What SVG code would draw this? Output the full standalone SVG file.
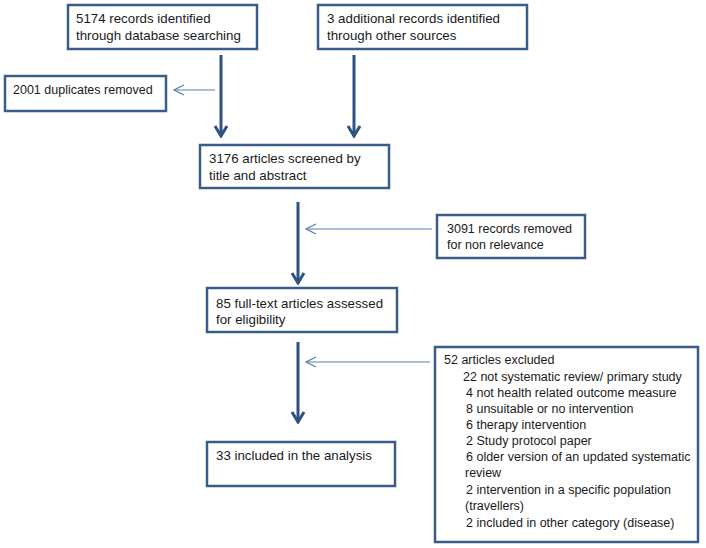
<svg xmlns="http://www.w3.org/2000/svg" width="706" height="548" viewBox="0 0 706 548">
<style>
.box{fill:#fff;stroke:#3a5c88;stroke-width:2.5}
text{font-family:"Liberation Sans",Arial,sans-serif;font-size:13.3px;fill:#1a1a1a}
text.s{font-size:12.5px}
.thick{stroke:#2e5283;stroke-width:3;fill:none}
.thin{stroke:#5b7fb0;stroke-width:1.2;fill:none}
</style>
<defs>
<marker id="ah" markerWidth="14" markerHeight="16" refX="12" refY="8" orient="auto" markerUnits="userSpaceOnUse" viewBox="0 0 14 16">
<path d="M2,2 L12,8 L2,14" fill="none" stroke="#2e5283" stroke-width="3" stroke-linejoin="miter"/>
</marker>
<marker id="ao" markerWidth="12" markerHeight="12" refX="11" refY="6" orient="auto" markerUnits="userSpaceOnUse" viewBox="0 0 12 12">
<path d="M1,1 L11,6 L1,11" fill="none" stroke="#5b7fb0" stroke-width="1.2"/>
</marker>
</defs>
<rect width="706" height="548" fill="#fff"/>
<g id="connectors">
<line class="thick" x1="221" y1="55" x2="221" y2="136" marker-end="url(#ah)"/>
<line class="thick" x1="354" y1="55" x2="354" y2="136" marker-end="url(#ah)"/>
<line class="thick" x1="298" y1="202" x2="298" y2="283" marker-end="url(#ah)"/>
<line class="thick" x1="298" y1="342" x2="298" y2="422" marker-end="url(#ah)"/>
<line class="thin" x1="215" y1="90" x2="174" y2="90" marker-end="url(#ao)"/>
<line class="thin" x1="432" y1="229" x2="306" y2="229" marker-end="url(#ao)"/>
<line class="thin" x1="430" y1="362" x2="306" y2="362" marker-end="url(#ao)"/>
</g>
<g id="n1">
<rect class="box" x="68" y="5" width="189" height="44"/>
<text x="76" y="23">5174 records identified</text>
<text x="76" y="40">through database  searching</text>
</g>
<g id="n2">
<rect class="box" x="318" y="5" width="209" height="44"/>
<text x="327" y="23">3 additional records identified</text>
<text x="327" y="40">through other  sources</text>
</g>
<g id="n3">
<rect class="box" x="5" y="76" width="161" height="35"/>
<text class="s" x="13" y="94">2001 duplicates removed</text>
</g>
<g id="n4">
<rect class="box" x="200" y="145" width="189" height="43"/>
<text x="209" y="163">3176 articles screened by</text>
<text x="209" y="180">title and abstract</text>
</g>
<g id="n5">
<rect class="box" x="437" y="215" width="148" height="43"/>
<text class="s" x="447" y="233">3091 records removed</text>
<text class="s" x="447" y="249">for non relevance</text>
</g>
<g id="n6">
<rect class="box" x="207" y="288" width="190" height="44"/>
<text x="216" y="308">85 full-text articles assessed</text>
<text x="216" y="324">for eligibility</text>
</g>
<g id="n7">
<rect class="box" x="435" y="347" width="263" height="195"/>
<text class="s" x="444" y="364">52 articles excluded</text>
<text class="s" x="463" y="381">22 not systematic review/ primary study</text>
<text class="s" x="466" y="397">4 not health related outcome measure</text>
<text class="s" x="466" y="413">8 unsuitable or no intervention</text>
<text class="s" x="466" y="429">6 therapy intervention</text>
<text class="s" x="466" y="445">2 Study protocol paper</text>
<text class="s" x="466" y="461">6 older version of an updated systematic</text>
<text class="s" x="465" y="477">review</text>
<text class="s" x="466" y="494">2 intervention in a specific population</text>
<text class="s" x="465" y="510">(travellers)</text>
<text class="s" x="466" y="527">2 included in other category (disease)</text>
</g>
<g id="n8">
<rect class="box" x="207" y="442" width="188" height="44"/>
<text x="216" y="460">33 included in the analysis</text>
</g>
</svg>
